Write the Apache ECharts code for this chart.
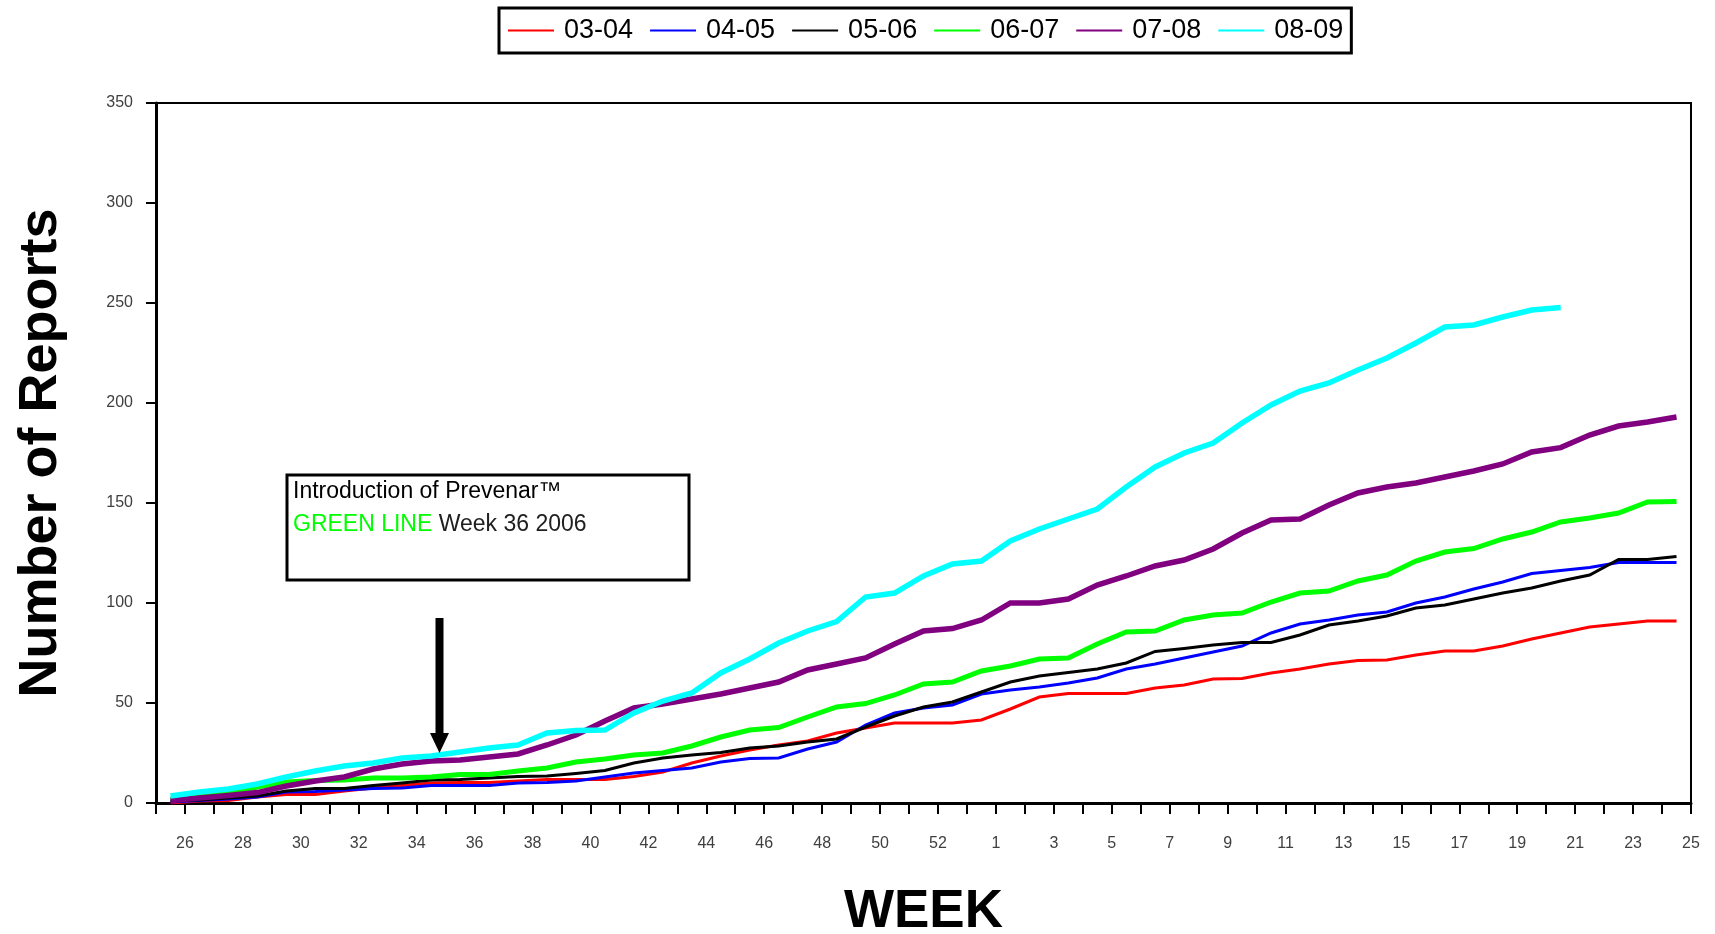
<!DOCTYPE html>
<html>
<head>
<meta charset="utf-8">
<script src="https://cdn.jsdelivr.net/npm/echarts@6/dist/echarts.min.js"></script>
<style>
html,body{margin:0;padding:0;background:#fff;}
#chart{width:1715px;height:934px;}
</style>
</head>
<body>
<div id="chart"></div>
<script>
// Weeks of the season (week 26 .. week 25 of next year, includes week 53)
const weeks = ['26','27','28','29','30','31','32','33','34','35','36','37','38','39','40','41','42','43','44','45','46','47','48','49','50','51','52','53',
  '1','2','3','4','5','6','7','8','9','10','11','12','13','14','15','16','17','18','19','20','21','22','23','24','25'];

const yTicks = [0, 50, 100, 150, 200, 250, 300, 350];

const s0304 = [0,1,1.3,3,4.3,4.3,6,7.5,8.8,10,10.3,10.3,11,11.8,11.8,11.8,13.3,15.5,20,23.5,26.5,29,31,35,37.5,40,40,40,41.5,47,53,54.8,54.8,54.8,57.5,59,62,62.3,65,67,69.5,71.3,71.5,74,76,76,78.5,82,85,88,89.5,91,91];
const s0405 = [0.5,1.3,2,3,5.5,5.8,6.5,7.3,7.5,8.8,8.8,8.8,10,10.3,11,13,15,16.3,17.5,20.5,22.3,22.5,27,30.5,39,45,47.5,49,54.5,56.5,58,60,62.5,67,69.5,72.5,75.5,78.5,85,89.5,91.5,94,95.5,100,103,107,110.5,114.7,116.2,117.7,120.3,120.3,120.3];
const s0506 = [1,1.5,2.5,3.5,6,7.3,7.3,8.8,10,11.5,11.8,12.5,13.3,13.5,14.8,16.3,20,22.5,24,25.3,27.5,28.5,30.5,32,38,43.5,48,50.5,55.5,60.5,63.5,65.3,67,70,75.8,77.3,79,80.3,80.3,84,89,91,93.5,97.5,99,102,105,107.5,111,114,121.8,121.8,123.3];
const s0607 = [2,3,5,8,10.5,11.2,11.5,12.5,12.5,13,14.3,14.3,16,17.5,20.5,22,24,25,28.5,33,36.5,37.7,43,48,49.7,54,59.5,60.5,66,68.5,72,72.5,79.5,85.5,86,91.5,94,95,100.5,105,106,111,114,121,125.5,127.2,132,135.5,140.5,142.5,145,150.5,150.8];
const s0708 = [1.3,2.5,3.7,5.2,8.5,11,13,17,19.5,21,21.5,23,24.5,29,34,41,47.5,49.5,52,54.5,57.5,60.5,66.5,69.5,72.5,79.5,86,87.2,91.5,100,100,102,109,113.5,118.5,121.5,127,135,141.5,142,149,155,158,160,163,166,169.5,175.5,177.7,184,188.5,190.5,193];
const s0809 = [3.5,5.5,7,9.5,13,16,18.5,20,22.5,23.5,25.5,27.5,29,35,36.2,36.5,45,51,55,65,72,80,86,90.7,103,105,113.5,119.5,121,131,137,142,147,158,168,175,180,190,199,206,210,216.5,222.5,230,238,239,243,246.5,247.7,null,null,null,null];

const seriesNames = ['03-04','04-05','05-06','06-07','07-08','08-09'];
const seriesData = [s0304, s0405, s0506, s0607, s0708, s0809];
const seriesColors = ['#FF0000','#0000FF','#000000','#00FF00','#800080','#00FFFF'];
const seriesWidths = [3, 3, 3, 5, 5.5, 5.5];

const chart = echarts.init(document.getElementById('chart'), null, {renderer:'canvas'});
const FONT = '"Liberation Sans", Arial, sans-serif';

const option = {
  backgroundColor: '#fff',
  animation: false,
  textStyle: {fontFamily: FONT},
  legend: {
    data: seriesNames,
    left: 499, top: 8,
    orient: 'horizontal',
    itemWidth: 46, itemHeight: 14, itemGap: 16,
    padding: [9, 8, 9, 8],
    borderColor: '#000', borderWidth: 3, backgroundColor: '#fff',
    itemStyle: {opacity: 0, borderWidth: 0},
    textStyle: {fontSize: 27, color: '#000', fontFamily: FONT, padding: [0, 0, 0, 5]}
  },
  grid: {
    left: 156, top: 103, width: 1535, height: 700,
    show: true, borderColor: '#000', borderWidth: 2, backgroundColor: '#fff',
    containLabel: false,
    outerBoundsMode: 'none'
  },
  xAxis: {
    type: 'category',
    data: weeks,
    boundaryGap: true,
    name: 'WEEK',
    nameLocation: 'middle',
    nameGap: 83,
    nameTextStyle: {fontSize: 53, fontWeight: 'bold', color: '#000', fontFamily: FONT},
    axisLine: {show: true, lineStyle: {color: '#000', width: 3}},
    axisTick: {show: true, interval: 0, length: 11, inside: false, alignWithLabel: false, lineStyle: {color: '#000', width: 2}},
    axisLabel: {
      interval: function (index) { return index % 2 === 0; },
      fontSize: 16, color: '#404040', margin: 33,
      padding: [0, 0, 0, 29],
      fontFamily: FONT
    },
    splitLine: {show: false}
  },
  yAxis: {
    type: 'value',
    min: yTicks[0], max: yTicks[yTicks.length - 1], interval: 50,
    name: 'Number of Reports',
    nameLocation: 'middle',
    nameGap: 88,
    nameTextStyle: {fontSize: 54, fontWeight: 'bold', color: '#000', fontFamily: FONT},
    axisLine: {show: true, lineStyle: {color: '#000', width: 3}},
    axisTick: {show: true, length: 10, inside: false, lineStyle: {color: '#000', width: 2}},
    axisLabel: {fontSize: 16, color: '#404040', margin: 23, fontFamily: FONT},
    splitLine: {show: false}
  },
  series: seriesNames.map(function (name, k) {
    return {
      name: name,
      type: 'line',
      data: seriesData[k],
      symbol: 'none',
      showSymbol: false,
      smooth: false,
      connectNulls: false,
      color: seriesColors[k],
      lineStyle: {color: seriesColors[k], width: seriesWidths[k], cap: 'butt', join: 'miter'},
      itemStyle: {color: seriesColors[k]},
      emphasis: {disabled: true}
    };
  }),
  graphic: [
    {
      type: 'rect', z: 100,
      shape: {x: 287, y: 475, width: 402, height: 105},
      style: {fill: '#fff', stroke: '#000', lineWidth: 3}
    },
    {
      type: 'text', z: 101, left: 293, top: 480,
      style: {text: 'Introduction of Prevenar\u2122', fontSize: 23, fill: '#000', fontFamily: FONT}
    },
    {
      type: 'text', z: 101, left: 293, top: 513,
      style: {
        text: '{g|GREEN LINE} {k|Week 36 2006}',
        fontSize: 23,
        fontFamily: FONT,
        rich: {
          g: {fontSize: 23, fill: '#00FF00', fontFamily: FONT},
          k: {fontSize: 23, fill: '#202020', fontFamily: FONT}
        }
      }
    },
    {
      type: 'rect', z: 100,
      shape: {x: 435.5, y: 618, width: 8, height: 118},
      style: {fill: '#000'}
    },
    {
      type: 'polygon', z: 100,
      shape: {points: [[430, 733], [449, 733], [439.5, 753]]},
      style: {fill: '#000'}
    }
  ]
};
chart.setOption(option);
</script>
</body>
</html>
